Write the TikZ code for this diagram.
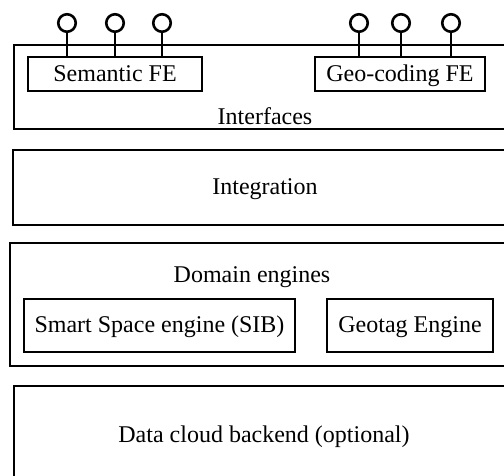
\documentclass[tikz,border=0pt]{standalone}
\usepackage{fontspec}
\setmainfont{Liberation Serif}
\usetikzlibrary{positioning}

\begin{document}
\begin{tikzpicture}[x=1pt,y=-1pt,
    layer/.style={draw,line width=2.8pt},
    lbl/.style={font=\fontsize{24}{28}\selectfont,inner sep=0pt,anchor=base},
    fe/.style={draw,line width=2.8pt,font=\fontsize{24}{28}\selectfont,
      minimum height=34pt,inner sep=0pt,text height=18pt,text depth=4pt},
    port/.style={circle,draw,line width=2.6pt,minimum size=17.5pt,inner sep=0pt}]
    \useasboundingbox (0,0) rectangle (504,475);
    \clip (0,0) rectangle (504,475);

    % Draw the layers
    \draw[layer] (14,45) rectangle (530,129);
    \draw[layer] (13,150) rectangle (530,225);
    \draw[layer] (10,243) rectangle (530,366);
    \draw[layer] (14,386) rectangle (530,500);

    % Front ends
    \node[fe,minimum width=174pt] (sem) at (115,74) {Semantic FE};
    \node[fe,minimum width=170pt] (geo) at (400,74) {Geo-coding FE};

    % Ports
    \foreach \x/\n in {67/s1,115/s2,162/s3} {
        \node[port] (\n) at (\x,23) {};
        \draw[line width=2.8pt] (\n) -- (\n |- sem.north);
    }
    \foreach \x/\n in {359/g1,401/g2,451/g3} {
        \node[port] (\n) at (\x,23) {};
        \draw[line width=2.8pt] (\n) -- (\n |- geo.north);
    }

    % Engines
    \node[fe,minimum width=271pt,minimum height=53pt] (sib) at (159.5,325.5) {Smart Space engine (SIB)};
    \node[fe,minimum width=166pt,minimum height=53pt] (geotag) at (410,325.5) {Geotag Engine};

    % Labels
    \node[lbl] (ifc) at (265,124) {Interfaces};
    \node[lbl] (integ) at (265,194) {Integration};
    \node[lbl] (dom) at (252,282) {Domain engines};
    \node[lbl] (data) at (264,442) {Data cloud backend (optional)};
\end{tikzpicture}
\end{document}
